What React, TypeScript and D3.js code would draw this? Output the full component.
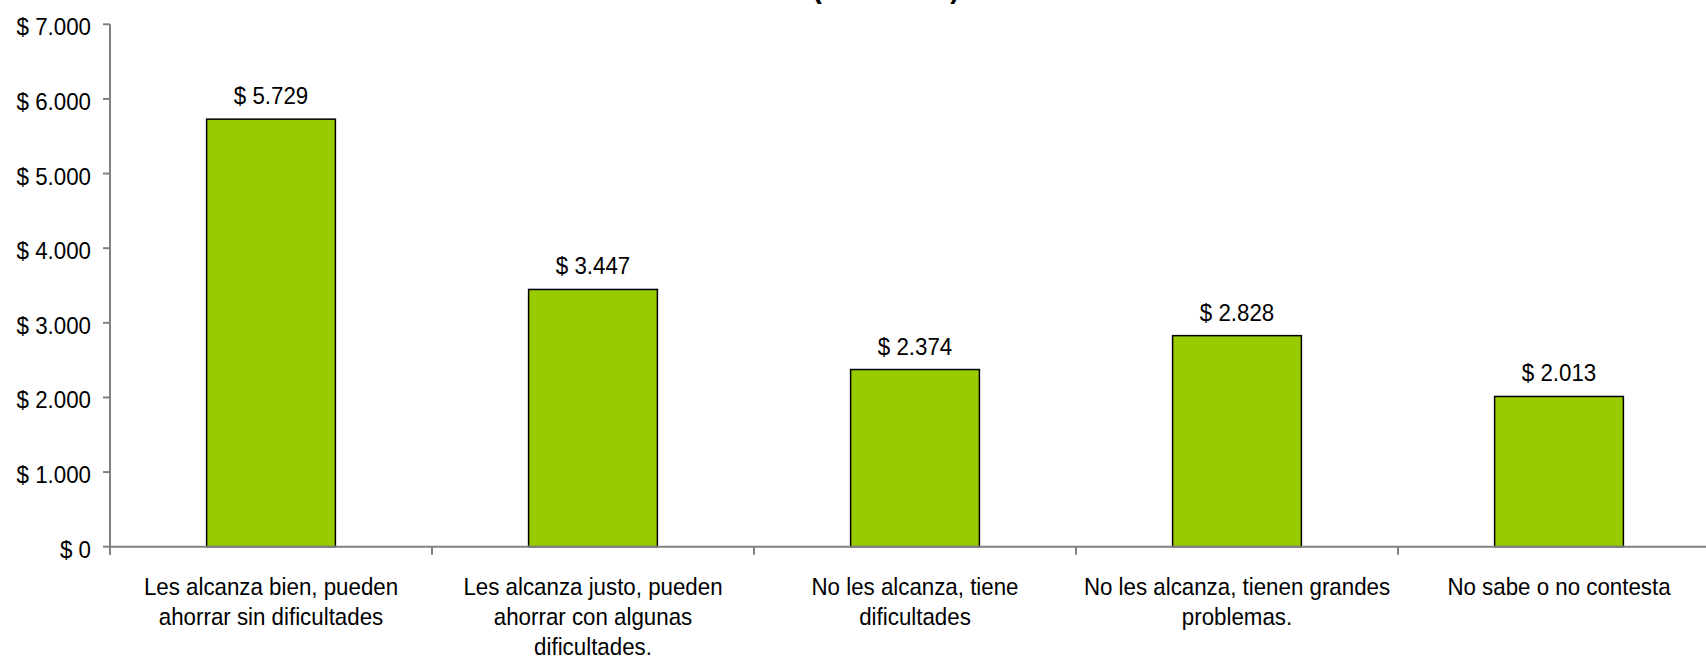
import React from "react";
import * as d3 from "d3";

const titleText = "(Promedio)";
const categories: string[][] = [
  ["Les alcanza bien, pueden", "ahorrar sin dificultades"],
  ["Les alcanza justo, pueden", "ahorrar con algunas", "dificultades."],
  ["No les alcanza, tiene", "dificultades"],
  ["No les alcanza, tienen grandes", "problemas."],
  ["No sabe o no contesta"],
];
const values = [5729, 3447, 2374, 2828, 2013];
const yTicks = [0, 1000, 2000, 3000, 4000, 5000, 6000, 7000];

const W = 1706;
const H = 661;
const FONT = "'Liberation Sans', Arial, sans-serif";
const SX = 0.93;
const FS = 24;

const fmt = (v: number) =>
  "$ " + d3.format(",")(v).replace(/,/g, ".");

export default function App() {
  const x = d3
    .scaleBand<number>()
    .domain(d3.range(values.length))
    .range([110, 1720])
    .paddingInner(0.6)
    .paddingOuter(0.3);
  const y = d3.scaleLinear().domain([0, 7000]).range([546.7, 24.3]);
  const step = x.step();
  const x0 = 110;
  const x1 = 110 + step * values.length;
  const boundaries = d3.range(values.length + 1).map((i) => x0 + i * step);

  return (
    <svg
      width={W}
      height={H}
      style={{ position: "absolute", left: 0, top: 0, display: "block", background: "#fff" }}
      fontFamily={FONT}
    >
      <rect x={0} y={0} width={W} height={H} fill="#fff" />
      {/* title (cut off at top) */}
      <g transform={`translate(886,-2) scale(${SX},1)`}>
        <text textAnchor="middle" fontSize={30} fontWeight="bold" fill="#000">
          {titleText}
        </text>
      </g>

      {/* bars */}
      {values.map((v, i) => (
        <rect
          key={i}
          x={x(i)!}
          y={y(v)}
          width={x.bandwidth()}
          height={y(0) - y(v)}
          fill="#99CC00"
          stroke="#000"
          strokeWidth={1.5}
        />
      ))}

      {/* axes */}
      <line x1={x0} x2={x0} y1={y(7000)} y2={y(0) + 8} stroke="#808080" strokeWidth={2} />
      <line x1={x0} x2={x1} y1={y(0)} y2={y(0)} stroke="#808080" strokeWidth={2} />
      {yTicks.map((t) => (
        <g key={t}>
          <line x1={x0 - 7} x2={x0} y1={y(t)} y2={y(t)} stroke="#808080" strokeWidth={2} />
          <g transform={`translate(91,${y(t) + 11}) scale(${SX},1)`}>
            <text textAnchor="end" fontSize={FS} fill="#000">
              {fmt(t)}
            </text>
          </g>
        </g>
      ))}
      {boundaries.map((b, i) => (
        <line key={i} x1={b} x2={b} y1={y(0)} y2={y(0) + 8} stroke="#808080" strokeWidth={2} />
      ))}

      {/* value labels */}
      {values.map((v, i) => (
        <g
          key={i}
          transform={`translate(${x(i)! + x.bandwidth() / 2},${y(v) - 15}) scale(${SX},1)`}
        >
          <text textAnchor="middle" fontSize={FS} fill="#000">
            {fmt(v)}
          </text>
        </g>
      ))}

      {/* category labels */}
      {categories.map((lines, i) =>
        lines.map((ln, j) => (
          <g
            key={i + "-" + j}
            transform={`translate(${x(i)! + x.bandwidth() / 2},${595 + j * 30}) scale(${SX},1)`}
          >
            <text textAnchor="middle" fontSize={FS} fill="#000">
              {ln}
            </text>
          </g>
        ))
      )}
    </svg>
  );
}
